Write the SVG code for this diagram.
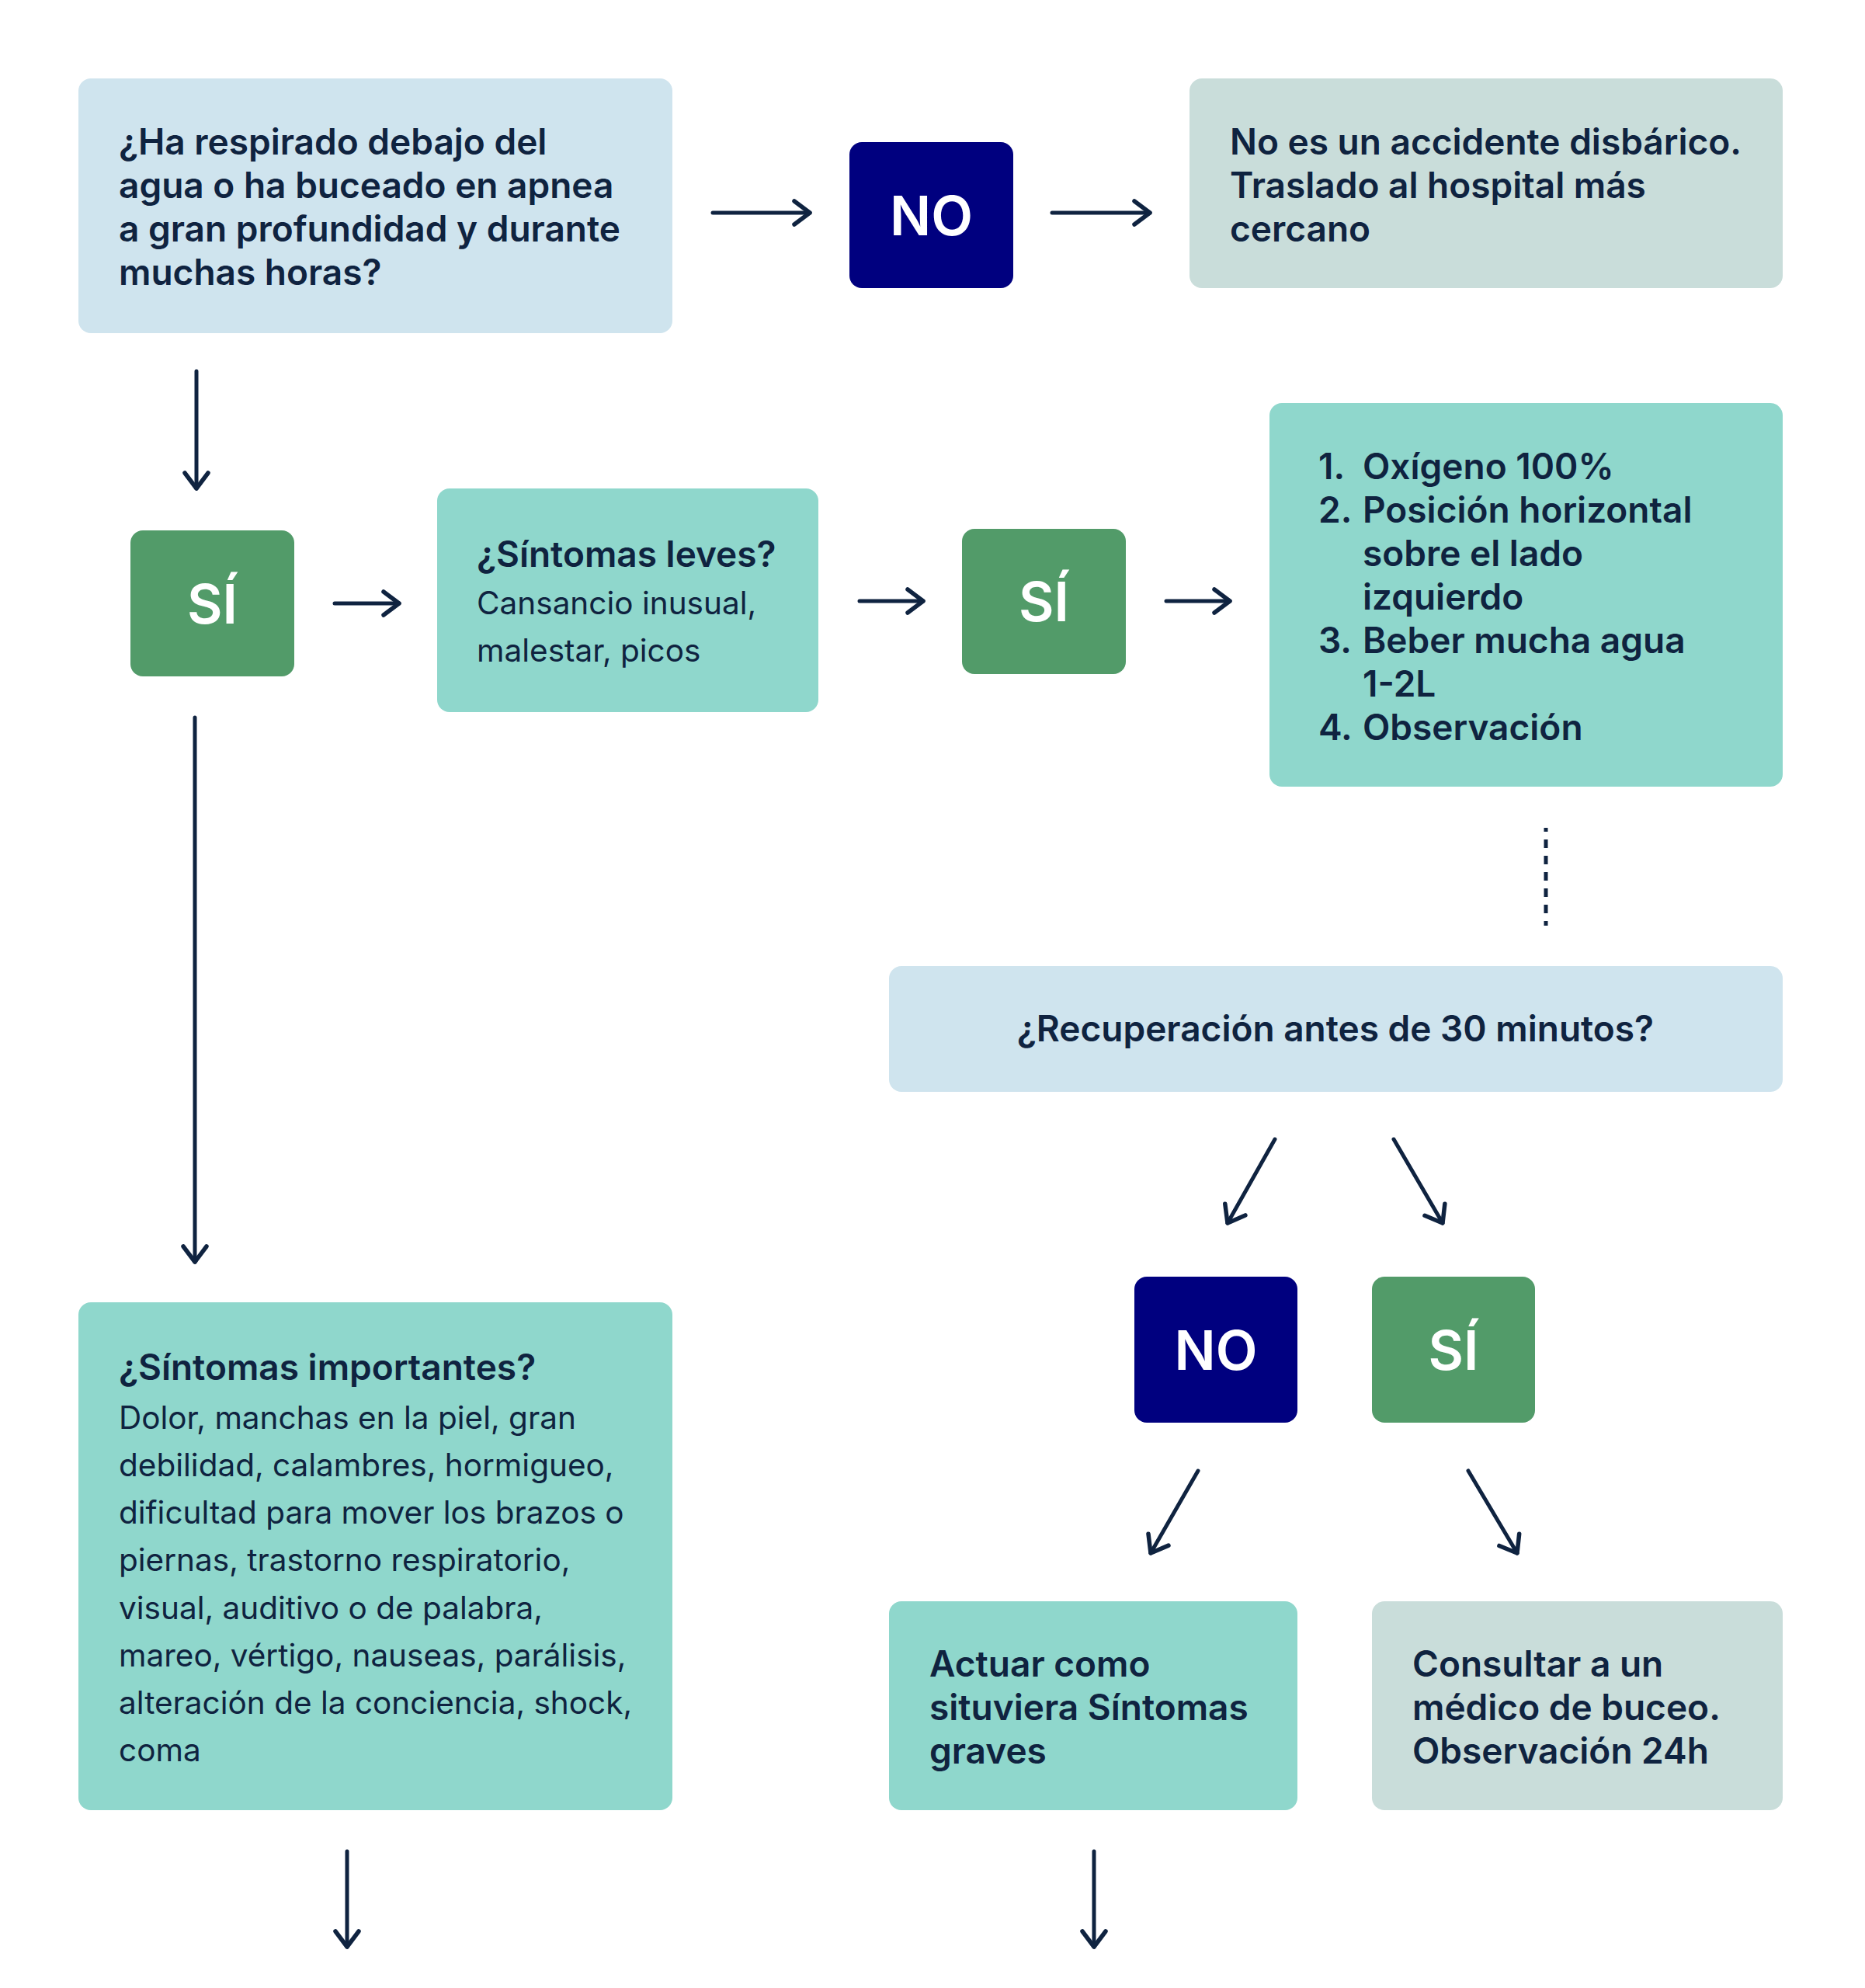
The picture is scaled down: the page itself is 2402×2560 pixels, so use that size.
<svg xmlns="http://www.w3.org/2000/svg" width="2402" height="2560" viewBox="0 0 2402 2560">
<style>
.blue{fill:#CFE4EE}
.teal{fill:#8FD7CC}
.grey{fill:#C9DDDA}
.no{fill:#00007F}
.si{fill:#529B69}
.t{font-family:Inter,"Liberation Sans",sans-serif;fill:#0F2340;font-size:46px}
.b{font-weight:600}
.r{font-weight:400;font-size:40.5px}
.lab{font-family:Inter,"Liberation Sans",sans-serif;fill:#FFFFFF;font-size:70px;font-weight:600}
.c line{stroke:#0F2340;stroke-width:5;fill:none;stroke-linecap:round}
</style>
<defs>
<marker id="ah" viewBox="-26 -20 30 40" refX="0" refY="0" markerWidth="30" markerHeight="40" markerUnits="userSpaceOnUse" orient="auto">
<path d="M-20,-15 L0,0 L-20,15" fill="none" stroke="#0F2340" stroke-width="5.5" stroke-linecap="round" stroke-linejoin="round"/>
</marker>
</defs>
<rect width="2402" height="2560" fill="#FFFFFF"/>

<g id="q1">
<rect class="blue" x="101" y="101" width="765" height="328" rx="16"/>
<text class="t b"><tspan x="153" y="199">¿Ha respirado debajo del</tspan><tspan x="153" y="255">agua o ha buceado en apnea</tspan><tspan x="153" y="311">a gran profundidad y durante</tspan><tspan x="153" y="367">muchas horas?</tspan></text>
</g>

<g id="no1">
<rect class="no" x="1094" y="183" width="211" height="188" rx="16"/>
<text class="lab" x="1199.5" y="303" text-anchor="middle">NO</text>
</g>

<g id="noaccidente">
<rect class="grey" x="1532" y="101" width="764" height="270" rx="16"/>
<text class="t b"><tspan x="1584" y="199">No es un accidente disbárico.</tspan><tspan x="1584" y="255">Traslado al hospital más</tspan><tspan x="1584" y="311">cercano</tspan></text>
</g>

<g id="si1">
<rect class="si" x="168" y="683" width="211" height="188" rx="16"/>
<text class="lab" x="273.5" y="803" text-anchor="middle">SÍ</text>
</g>

<g id="leves">
<rect class="teal" x="563" y="629" width="491" height="288" rx="16"/>
<text class="t"><tspan class="b" x="614" y="730">¿Síntomas leves?</tspan><tspan class="r" x="614" y="791">Cansancio inusual,</tspan><tspan class="r" x="614" y="852">malestar, picos</tspan></text>
</g>

<g id="si2">
<rect class="si" x="1239" y="681" width="211" height="187" rx="16"/>
<text class="lab" x="1344.5" y="800" text-anchor="middle">SÍ</text>
</g>

<g id="lista">
<rect class="teal" x="1635" y="519" width="661" height="494" rx="16"/>
<text class="t b"><tspan x="1698" y="617">1.</tspan><tspan x="1755" y="617">Oxígeno 100%</tspan><tspan x="1698" y="673">2.</tspan><tspan x="1755" y="673">Posición horizontal</tspan><tspan x="1755" y="729">sobre el lado</tspan><tspan x="1755" y="785">izquierdo</tspan><tspan x="1698" y="841">3.</tspan><tspan x="1755" y="841">Beber mucha agua</tspan><tspan x="1755" y="897">1-2L</tspan><tspan x="1698" y="953">4.</tspan><tspan x="1755" y="953">Observación</tspan></text>
</g>

<g id="recuperacion">
<rect class="blue" x="1145" y="1244" width="1151" height="162" rx="16"/>
<text class="t b" x="1720" y="1341" text-anchor="middle">¿Recuperación antes de 30 minutos?</text>
</g>

<g id="no2">
<rect class="no" x="1461" y="1644" width="210" height="188" rx="16"/>
<text class="lab" x="1566" y="1764" text-anchor="middle">NO</text>
</g>

<g id="si3">
<rect class="si" x="1767" y="1644" width="210" height="188" rx="16"/>
<text class="lab" x="1872" y="1764" text-anchor="middle">SÍ</text>
</g>

<g id="importantes">
<rect class="teal" x="101" y="1677" width="765" height="654" rx="16"/>
<text class="t"><tspan class="b" x="153" y="1777">¿Síntomas importantes?</tspan><tspan class="r" x="153" y="1840">Dolor, manchas en la piel, gran</tspan><tspan class="r" x="153" y="1901">debilidad, calambres, hormigueo,</tspan><tspan class="r" x="153" y="1962">dificultad para mover los brazos o</tspan><tspan class="r" x="153" y="2023">piernas, trastorno respiratorio,</tspan><tspan class="r" x="153" y="2085">visual, auditivo o de palabra,</tspan><tspan class="r" x="153" y="2146">mareo, vértigo, nauseas, parálisis,</tspan><tspan class="r" x="153" y="2207">alteración de la conciencia, shock,</tspan><tspan class="r" x="153" y="2268">coma</tspan></text>
</g>

<g id="actuar">
<rect class="teal" x="1145" y="2062" width="526" height="269" rx="16"/>
<text class="t b"><tspan x="1197" y="2159">Actuar como</tspan><tspan x="1197" y="2215">situviera Síntomas</tspan><tspan x="1197" y="2271">graves</tspan></text>
</g>

<g id="consultar">
<rect class="grey" x="1767" y="2062" width="529" height="269" rx="16"/>
<text class="t b"><tspan x="1819" y="2159">Consultar a un</tspan><tspan x="1819" y="2215">médico de buceo.</tspan><tspan x="1819" y="2271">Observación 24h</tspan></text>
</g>

<g id="connectors" class="c">
<line x1="918" y1="274" x2="1043" y2="274" marker-end="url(#ah)"/>
<line x1="1355" y1="274" x2="1481" y2="274" marker-end="url(#ah)"/>
<line x1="253" y1="478" x2="253" y2="629" marker-end="url(#ah)"/>
<line x1="431" y1="777" x2="514" y2="777" marker-end="url(#ah)"/>
<line x1="1107" y1="774" x2="1189" y2="774" marker-end="url(#ah)"/>
<line x1="1502" y1="774" x2="1584" y2="774" marker-end="url(#ah)"/>
<line x1="251" y1="924" x2="251" y2="1625" marker-end="url(#ah)"/>
<line x1="1991" y1="1066" x2="1991" y2="1192" stroke-dasharray="11 10" stroke-dashoffset="6" style="stroke-linecap:butt"/>
<line x1="1642" y1="1467" x2="1581" y2="1575" marker-end="url(#ah)"/>
<line x1="1795" y1="1467" x2="1858" y2="1575" marker-end="url(#ah)"/>
<line x1="1543" y1="1894" x2="1482" y2="2000" marker-end="url(#ah)"/>
<line x1="1891" y1="1894" x2="1954" y2="2000" marker-end="url(#ah)"/>
<line x1="447" y1="2384" x2="447" y2="2507" marker-end="url(#ah)"/>
<line x1="1409" y1="2384" x2="1409" y2="2507" marker-end="url(#ah)"/>
</g>
</svg>
